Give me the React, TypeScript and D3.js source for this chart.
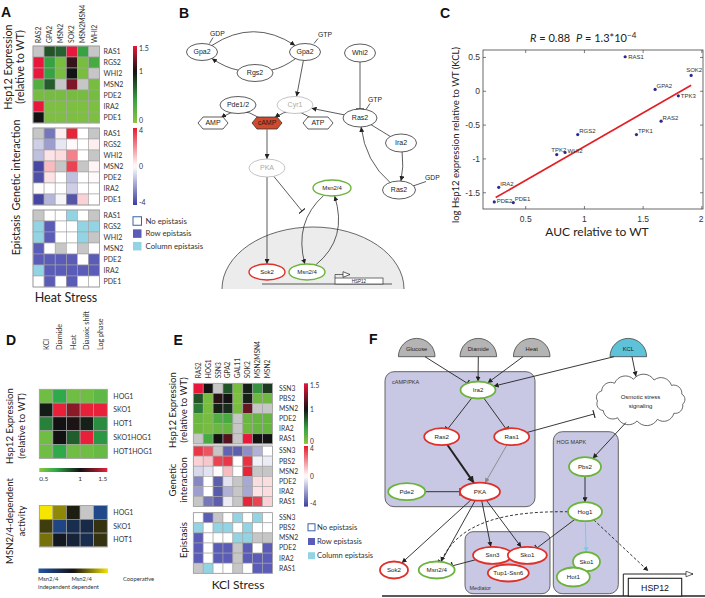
import React from "react";
import * as d3 from "d3";

// ================= DATA =================
// Panel A – heat stress
const heatCols = ["RAS2", "GPA2", "MSN2", "SOK2", "MSN2MSN4", "WHI2"];
const heatRows = ["RAS1", "RGS2", "WHI2", "MSN2", "PDE2", "IRA2", "PDE1"];
const heatExpression = [
  [null, 0.75, 0.7, 1.5, 0.45, null],
  [1.5, 0.45, 0.1, 1.08, 0.1, 0.35],
  [1.5, 0.45, 0.1, 1.0, 0.1, null],
  [0.3, 0.72, null, 1.25, null, 0.1],
  [0.12, 0.12, 0.12, 0.12, 0.12, 0.12],
  [1.5, 0.08, 0.08, 0.08, 0.08, 0.08],
  [1.0, 0.08, 0.08, 0.08, 0.08, 0.08],
];
const heatInteraction = [
  [null, -2.8, 0.3, 3.8, 0, null],
  [-1, -2, -0.5, 0.1, 0, 0.3],
  [-1.3, 0.5, 0.6, 2.2, 0, null],
  [-3.8, 1.2, null, 3.3, null, 0.2],
  [-3.6, 0.5, 0, -1.3, 0, 0.1],
  [0.05, 0, 0, -1, 0, 0],
  [-3.8, -1.5, -0.2, -3.5, 0.8, 0],
];
// 0 = no epistasis, 1 = row epistasis, 2 = column epistasis
const heatEpistasis = [
  [null, 0, 0, 2, 0, null],
  [2, 1, 0, 0, 2, 2],
  [2, 1, 0, 0, 2, null],
  [1, 0, null, 0, null, 0],
  [1, 1, 1, 1, 0, 1],
  [2, 1, 1, 1, 1, 1],
  [0, 1, 0, 1, 0, 0],
];
const exprTicks = [0, 1, 1.5];
const interTicks = [-4, 0, 4];
const epistasisLegend = ["No epistasis", "Row epistasis", "Column epistasis"];

// Panel C – scatter
const scatterGenes = ["RAS1", "SOK2", "GPA2", "TPK3", "RAS2", "TPK1", "RGS2", "TPK2", "WHI2", "IRA2", "PDE2", "PDE1"];
const scatterAUC = [1.347, 1.909, 1.602, 1.8, 1.653, 1.443, 0.943, 0.764, 0.835, 0.27, 0.232, 0.394];
const scatterLogHsp12 = [0.51, 0.234, 0.027, -0.068, -0.442, -0.64, -0.64, -0.935, -0.905, -1.42, -1.636, -1.645];
const fitAUC = [0.244, 1.909];
const fitLogHsp12 = [-1.571, 0.09];
const cXTicks = [0.5, 1, 1.5, 2];
const cYTicks = [-1.5, -1, -0.5, 0, 0.5];

// Panel D
const condCols = ["KCl", "Diamide", "Heat", "Diauxic shift", "Log phase"];
const hogRows = ["HOG1", "SKO1", "HOT1", "SKO1HOG1", "HOT1HOG1"];
const hogExpression = [
  [0.56, 0.7, 0.56, 0.56, 0.6],
  [0.98, 1.5, 1.28, 1.5, 1.5],
  [0.78, 1.0, 1.02, 0.97, 0.76],
  [0.56, 1.0, 0.85, 1.5, 0.74],
  [0.56, 0.7, 0.56, 0.56, 0.58],
];
const hogTicks = [0.5, 1, 1.5];
const msnRows = ["HOG1", "SKO1", "HOT1"];
const msnActivity = [
  [1, 0.55, 0.05, null, -0.8],
  [0.2, -0.75, -0.4, -0.35, 0.15],
  [0.45, -0.1, -0.25, -0.4, 0.15],
];

// Panel E – KCl stress
const kclCols = ["RAS2", "HOG1", "SSN3", "GPA2", "GAL11", "SOK2", "MSN2MSN4", "MSN2"];
const kclRows = ["SSN3", "PBS2", "MSN2", "PDE2", "IRA2", "RAS1"];
const kclExpression = [
  [1.5, 1.0, null, 0.75, 0.1, 0.95, 0.5, 0.85],
  [0.75, 0.1, 1.05, 1.0, 0.08, 0.95, 0.15, 0.15],
  [0.6, 0.1, 0.95, 0.9, 0.1, 1.2, null, null],
  [0.18, 0.12, 0.3, 0.35, null, 0.18, 0.2, 0.2],
  [0.15, 0.12, 0.18, 0.2, null, 0.15, 0.2, 0.2],
  [null, 0.35, 1.0, 1.15, null, 1.5, 1.0, 1.0],
];
const kclInteraction = [
  [3.5, 3, null, -3.2, -3.3, -2.3, -1.6, 0],
  [0.8, 1, 3.3, 3.5, 0, 3.6, -0.3, -0.4],
  [-0.8, -0.6, 0.1, 1.2, 0, 3.8, null, null],
  [-2.5, 0, -3.3, -0.6, null, -1.8, 0.6, 0.6],
  [-2, 0, -3.4, -1.6, null, -1.8, 0.5, 0.6],
  [null, -2.8, -3.3, -0.4, null, 3.8, 3.3, 0.8],
];
const kclEpistasis = [
  [0, 1, null, 0, 2, 0, 2, 0],
  [2, 0, 2, 2, 0, 2, 0, 0],
  [1, 0, 0, 0, 2, 2, null, null],
  [1, 0, 1, 1, null, 1, 0, 1],
  [1, 0, 1, 1, null, 1, 1, 1],
  [null, 2, 0, 0, null, 0, 1, 1],
];

// ================= STYLE =================
const FONT = "Lato, 'Open Sans', 'DejaVu Sans', sans-serif";
const ARIAL = "'Liberation Sans', Arial, sans-serif";
const NA = "#c6c6c6";
const GRID = "#a3a3a3";
const RED = "#e0302a";
const GREEN = "#6cb33e";
const ROW_EPI = "#5b5bb8";
const COL_EPI = "#93d4e4";
const LABEL = "#333";

const exprColor = d3.scaleLinear<string>().domain([0, 0.45, 1, 1.5]).range(["#8cc540", "#37a242", "#131313", "#e8173c"]).clamp(true);
const interColor = d3.scaleLinear<string>().domain([-4, 0, 4]).range(["#3b3d9d", "#ffffff", "#e51b2d"]).clamp(true);
const epiColor = (v) => (v === 1 ? ROW_EPI : v === 2 ? COL_EPI : "#ffffff");
const hogColor = d3.scaleLinear<string>().domain([0.5, 0.7, 1, 1.5]).range(["#8cc540", "#2faa4a", "#121212", "#e8203a"]).clamp(true);
const msnColor = d3.scaleLinear<string>().domain([-1, 0, 1]).range(["#2357a8", "#121212", "#f5e600"]).clamp(true);

// ================= HELPERS =================
function Heatmap({ x, y, cw, ch, rows, cols, values, color, rowFont = 7, colLabels = false, colFont = 7, colGap = 3, rowGap = 4 }) {
  const xs = d3.scaleBand().domain(d3.range(cols.length)).range([x, x + cw * cols.length]);
  const ys = d3.scaleBand().domain(d3.range(rows.length)).range([y, y + ch * rows.length]);
  const right = x + cw * cols.length;
  return (
    <g>
      {values.map((row, i) =>
        row.map((v, j) => (
          <rect key={i + "-" + j} x={xs(j)} y={ys(i)} width={xs.bandwidth()} height={ys.bandwidth()}
            fill={v == null ? NA : color(v)} stroke={GRID} strokeWidth={0.6} />
        ))
      )}
      <rect x={x} y={y} width={cw * cols.length} height={ch * rows.length} fill="none" stroke={GRID} strokeWidth={0.8} />
      {rows.map((r, i) => (
        <text key={"r" + i} x={right + rowGap} y={ys(i) + ch / 2} dy="0.35em" fontSize={rowFont} fill={LABEL} fontFamily={FONT}>{r}</text>
      ))}
      {colLabels && cols.map((c, j) => (
        <text key={"c" + j} transform={`translate(${xs(j) + cw / 2 + 2.5},${y - colGap}) rotate(-90)`} fontSize={colFont} fill={LABEL} fontFamily={FONT}>{c}</text>
      ))}
    </g>
  );
}

function VColorbar({ id, x, w, pos, color, ticks, font = 7 }) {
  const r = pos.range();
  const yBot = r[0], yTop = r[r.length - 1];
  const stops = d3.range(0, 1.0001, 0.04).map((o) => ({ o, c: color(pos.invert(yTop + o * (yBot - yTop))) }));
  return (
    <g>
      <defs>
        <linearGradient id={id} x1="0" y1="0" x2="0" y2="1">
          {stops.map((s, i) => <stop key={i} offset={s.o} stopColor={s.c} />)}
        </linearGradient>
      </defs>
      <rect x={x} y={yTop} width={w} height={yBot - yTop} fill={`url(#${id})`} />
      {ticks.map((t, i) => (
        <text key={i} x={x + w + 2} y={Math.min(Math.max(pos(t), yTop + 2.5), yBot - 2.5)} dy="0.35em" fontSize={font} fill={LABEL} fontFamily={FONT}>{String(t)}</text>
      ))}
    </g>
  );
}

function HColorbar({ id, y, h, pos, color }) {
  const r = pos.range();
  const x0 = r[0], x1 = r[r.length - 1];
  const stops = d3.range(0, 1.0001, 0.04).map((o) => ({ o, c: color(pos.invert(x0 + o * (x1 - x0))) }));
  return (
    <g>
      <defs>
        <linearGradient id={id} x1="0" y1="0" x2="1" y2="0">
          {stops.map((s, i) => <stop key={i} offset={s.o} stopColor={s.c} />)}
        </linearGradient>
      </defs>
      <rect x={x0} y={y} width={x1 - x0} height={h} fill={`url(#${id})`} />
    </g>
  );
}

function EpiLegend({ x, y0, step, box, tx, font }) {
  const fills = ["#ffffff", ROW_EPI, COL_EPI];
  return (
    <g>
      {epistasisLegend.map((t, i) => (
        <g key={t}>
          <rect x={x} y={y0 + i * step - box / 2} width={box} height={box} fill={fills[i]} stroke={i === 0 ? "#3b62a8" : "none"} strokeWidth={1} />
          <text x={tx} y={y0 + i * step} dy="0.35em" fontSize={font} fill={LABEL} fontFamily={FONT}>{t}</text>
        </g>
      ))}
    </g>
  );
}

function RotText({ x, y, size, children, anchor = "middle" }) {
  return (
    <text transform={`translate(${x},${y}) rotate(-90)`} textAnchor={anchor} fontSize={size} fill="#222" fontFamily={FONT}>{children}</text>
  );
}

function PanelLetter({ x, y, t }) {
  return <text x={x} y={y} fontSize={14} fontWeight="bold" fontFamily={ARIAL} fill="#111">{t}</text>;
}

function edgePt(n, tx, ty) {
  const dx = tx - n.x, dy = ty - n.y;
  const t = 1 / Math.sqrt((dx / n.rx) ** 2 + (dy / n.ry) ** 2);
  return [n.x + dx * t, n.y + dy * t];
}
function link(a, b, bend = 0) {
  const dx = b.x - a.x, dy = b.y - a.y, L = Math.hypot(dx, dy);
  const cx = (a.x + b.x) / 2 - (dy / L) * bend;
  const cy = (a.y + b.y) / 2 + (dx / L) * bend;
  const p0 = edgePt(a, cx, cy), p1 = edgePt(b, cx, cy);
  if (!bend) return `M${p0[0]},${p0[1]}L${p1[0]},${p1[1]}`;
  return `M${p0[0]},${p0[1]}Q${cx},${cy} ${p1[0]},${p1[1]}`;
}
const pt = (x, y) => ({ x, y, rx: 0.01, ry: 0.01 });

function ENode({ n, stroke = "#333", sw = 0.8, color = "#222", fs = 7 }) {
  return (
    <g>
      <ellipse cx={n.x} cy={n.y} rx={n.rx} ry={n.ry} fill="#fff" stroke={stroke} strokeWidth={sw} />
      <text x={n.x} y={n.y} dy="0.35em" textAnchor="middle" fontSize={fs} fill={color} fontFamily={ARIAL}>{n.label}</text>
    </g>
  );
}

function Markers() {
  const arrow = (id, fill, size) => (
    <marker id={id} viewBox="0 0 10 10" refX={10} refY={5} markerWidth={size} markerHeight={size} markerUnits="userSpaceOnUse" orient="auto">
      <path d="M0,0L10,5L0,10Z" fill={fill} />
    </marker>
  );
  return (
    <defs>
      {arrow("arr", "#222", 5)}
      {arrow("arrBig", "#222", 7)}
      {arrow("arrGray", "#888", 5)}
      {arrow("arrCyan", "#7cc8e2", 5)}
      <marker id="tee" viewBox="0 0 2 8" refX={1} refY={4} markerWidth={2} markerHeight={8} markerUnits="userSpaceOnUse" orient="auto">
        <path d="M1,0L1,8" stroke="#222" strokeWidth={1.2} />
      </marker>
      <marker id="openArr" viewBox="0 0 12 10" refX={11} refY={5} markerWidth={9} markerHeight={7} markerUnits="userSpaceOnUse" orient="auto">
        <path d="M1,1L11,5L1,9Z" fill="#fff" stroke="#222" strokeWidth={1} />
      </marker>
    </defs>
  );
}

// ================= PANEL A =================
function PanelA() {
  const X = 33, CW = 11.1, CH = 11;
  const Y = [46, 128, 210];
  const H = CH * heatRows.length;
  const cbX = 133;
  const exprPos = d3.scaleLinear().domain([0, 1.5]).range([Y[0] + H, Y[0]]);
  const interPos = d3.scaleLinear().domain([-4, 4]).range([Y[1] + H, Y[1]]);
  return (
    <g>
      <PanelLetter x={1} y={17} t="A" />
      <Heatmap x={X} y={Y[0]} cw={CW} ch={CH} rows={heatRows} cols={heatCols} values={heatExpression} color={exprColor} colLabels colFont={6.8} />
      <Heatmap x={X} y={Y[1]} cw={CW} ch={CH} rows={heatRows} cols={heatCols} values={heatInteraction} color={interColor} />
      <Heatmap x={X} y={Y[2]} cw={CW} ch={CH} rows={heatRows} cols={heatCols} values={heatEpistasis} color={epiColor} />
      <VColorbar id="cbA1" x={cbX} w={4} pos={exprPos} color={exprColor} ticks={exprTicks} />
      <VColorbar id="cbA2" x={cbX} w={4} pos={interPos} color={interColor} ticks={interTicks} />
      <EpiLegend x={133} y0={221} step={12.6} box={8.5} tx={145.5} font={7.8} />
      <RotText x={12} y={67} size={10.8}>Hsp12 Expression</RotText>
      <RotText x={24} y={67} size={10.8}>(relative to WT)</RotText>
      <RotText x={20} y={165} size={10.8}>Genetic interaction</RotText>
      <RotText x={20} y={235} size={10.8}>Epistasis</RotText>
      <text x={66} y={302} textAnchor="middle" fontSize={12.5} fill="#222" fontFamily={FONT}>Heat Stress</text>
    </g>
  );
}

// ================= PANEL B =================
const bNodes = {
  gpaGDP: { x: 202, y: 52, rx: 15.5, ry: 8.5, label: "Gpa2" },
  gpaGTP: { x: 305, y: 52, rx: 15.5, ry: 8.5, label: "Gpa2" },
  rgs2: { x: 255, y: 73, rx: 18, ry: 8.5, label: "Rgs2" },
  whi2: { x: 360, y: 53, rx: 15.5, ry: 9, label: "Whi2" },
  pde: { x: 238, y: 105, rx: 18, ry: 8.5, label: "Pde1/2" },
  cyr1: { x: 295, y: 105, rx: 18, ry: 8.5, label: "Cyr1" },
  ras2a: { x: 360, y: 118, rx: 17, ry: 9, label: "Ras2" },
  ira2: { x: 401, y: 143, rx: 15.5, ry: 9, label: "Ira2" },
  ras2b: { x: 399, y: 190, rx: 16.5, ry: 9, label: "Ras2" },
  pka: { x: 267, y: 168, rx: 18, ry: 9, label: "PKA" },
  msnA: { x: 332, y: 188, rx: 19, ry: 8, label: "Msn2/4" },
  sok2: { x: 267, y: 272, rx: 18, ry: 8, label: "Sok2" },
  msnB: { x: 307, y: 272, rx: 18, ry: 8, label: "Msn2/4" },
};
const bHex = {
  amp: { x: 213, y: 123, label: "AMP" },
  camp: { x: 267, y: 123, label: "cAMP" },
  atp: { x: 318, y: 123, label: "ATP" },
};

function Hex({ h, fill }) {
  const w = 15, k = 10, hh = 6;
  const d = `M${h.x - w},${h.y}L${h.x - k},${h.y - hh}L${h.x + k},${h.y - hh}L${h.x + w},${h.y}L${h.x + k},${h.y + hh}L${h.x - k},${h.y + hh}Z`;
  return (
    <g>
      <path d={d} fill={fill} stroke="#333" strokeWidth={0.8} />
      <text x={h.x} y={h.y} dy="0.35em" textAnchor="middle" fontSize={7} fill="#222" fontFamily={ARIAL}>{h.label}</text>
    </g>
  );
}

function PanelB() {
  const N = bNodes, Hx = bHex;
  const hn = (h) => ({ x: h.x, y: h.y, rx: 15, ry: 6.5 });
  const edges = [
    { d: link(N.gpaGDP, N.gpaGTP, -34), m: "arr" },
    { d: link(N.gpaGTP, N.rgs2, -6), m: null },
    { d: link(N.rgs2, N.gpaGDP, -6), m: "arr" },
    { d: link(N.gpaGTP, N.cyr1), m: "arr" },
    { d: link(N.whi2, N.ras2a), m: "tee" },
    { d: link(N.ras2a, N.cyr1), m: "arr" },
    { d: link(N.ras2a, N.ira2), m: null },
    { d: link(N.ira2, N.ras2b, -4), m: "arr" },
    { d: link(N.ras2b, N.ras2a, -16), m: "arr" },
    { d: link(hn(Hx.camp), hn(Hx.amp), 18), m: "arr" },
    { d: link(hn(Hx.atp), hn(Hx.camp), 18), m: "arr" },
    { d: link(hn(Hx.camp), N.pka), m: "arr" },
    { d: link(N.pka, N.sok2), m: "arr" },
    { d: link(N.pka, pt(302, 211)), m: "tee" },
    { d: link(N.msnA, N.msnB, 27), m: "arr" },
    { d: link(N.msnB, N.msnA, 30), m: "arr" },
  ];
  const tag = (x, y, lx1, ly1, lx2, ly2, t) => (
    <g key={t + x}>
      <line x1={lx1} y1={ly1} x2={lx2} y2={ly2} stroke="#333" strokeWidth={0.8} />
      <text x={x} y={y} fontSize={6.8} fill="#222" fontFamily={ARIAL}>{t}</text>
    </g>
  );
  return (
    <g>
      <PanelLetter x={179} y={18} t="B" />
      <path d="M222,289A91,62 0 0 1 404,289Z" fill="#ececec" stroke="none" />
      <path d="M222,289A91,62 0 0 1 404,289" fill="none" stroke="#444" strokeWidth={0.8} />
      <line x1={262} y1={284} x2={392} y2={284} stroke="#333" strokeWidth={0.8} />
      <rect x={335} y={278} width={48} height={6} fill="#fff" stroke="#333" strokeWidth={0.7} />
      <text x={359} y={282.8} textAnchor="middle" fontSize={4.5} fill="#222" fontFamily={ARIAL}>HSP12</text>
      <path d="M335,278L335,274.5L350,274.5" fill="none" stroke="#333" strokeWidth={0.7} markerEnd="url(#openArr)" />
      {edges.map((e, i) => (
        <path key={i} d={e.d} fill="none" stroke="#333" strokeWidth={0.8} markerEnd={e.m ? `url(#${e.m})` : undefined} />
      ))}
      {tag(210, 36, 213, 37.5, 209.5, 43.5, "GDP")}
      {tag(318, 37, 318, 38.5, 314, 43.5, "GTP")}
      {tag(368, 102, 370, 103.5, 366, 109.5, "GTP")}
      {tag(425, 180, 426, 181.5, 413, 186, "GDP")}
      <ENode n={N.gpaGDP} />
      <ENode n={N.gpaGTP} />
      <ENode n={N.rgs2} />
      <ENode n={N.whi2} />
      <ENode n={N.pde} />
      <ENode n={N.cyr1} stroke="#b5b5b5" color="#aaa" />
      <ENode n={N.ras2a} />
      <ENode n={N.ira2} />
      <ENode n={N.ras2b} />
      <ENode n={N.pka} stroke="#b5b5b5" color="#aaa" />
      <ENode n={N.msnA} stroke={GREEN} sw={1.4} fs={6} />
      <ENode n={N.sok2} stroke={RED} sw={1.4} fs={6} />
      <ENode n={N.msnB} stroke={GREEN} sw={1.4} fs={6} />
      <Hex h={Hx.amp} fill="#fff" />
      <Hex h={Hx.camp} fill="#d24a2c" />
      <Hex h={Hx.atp} fill="#fff" />
    </g>
  );
}

// ================= PANEL C =================
const cLabelNudge = {
  RAS1: [3, 2.5, "start"],
  SOK2: [3, -3, "middle"],
  TPK3: [2.5, 2.5, "start"],
  TPK2: [-5.5, -3, "start"],
  WHI2: [2.5, 0.5, "start"],
  PDE2: [2.5, 1, "start"],
};

function PanelC() {
  const x = d3.scaleLinear().domain([0.136, 2.01]).range([483, 703]);
  const y = d3.scaleLinear().domain([-1.74, 0.61]).range([209, 50]);
  const [x0, x1] = x.range();
  const [y0, y1] = y.range();
  const line = d3.line().x((d) => x(d[0])).y((d) => y(d[1]));
  const fit = line(fitAUC.map((a, i) => [a, fitLogHsp12[i]]));
  return (
    <g>
      <PanelLetter x={440} y={17.5} t="C" />
      <text x={530} y={42} fontSize={11} fill="#222" fontFamily={FONT}>
        <tspan fontStyle="italic">R</tspan> = 0.88
        <tspan x={576} fontStyle="italic">P</tspan> = 1.3*10
        <tspan dy={-4} fontSize={8}>−4</tspan>
      </text>
      <rect x={x0} y={y1} width={x1 - x0} height={y0 - y1} fill="#fff" stroke="#444" strokeWidth={0.8} />
      {cXTicks.map((t) => (
        <g key={"x" + t}>
          <line x1={x(t)} x2={x(t)} y1={y0} y2={y0 - 3} stroke="#444" strokeWidth={0.7} />
          <line x1={x(t)} x2={x(t)} y1={y1} y2={y1 + 3} stroke="#444" strokeWidth={0.7} />
          <text x={Math.min(x(t), 701)} y={221.5} textAnchor="middle" fontSize={8.5} fill="#333" fontFamily={ARIAL}>{String(t)}</text>
        </g>
      ))}
      {cYTicks.map((t) => (
        <g key={"y" + t}>
          <line x1={x0} x2={x0 + 3} y1={y(t)} y2={y(t)} stroke="#444" strokeWidth={0.7} />
          <line x1={x1} x2={x1 - 3} y1={y(t)} y2={y(t)} stroke="#444" strokeWidth={0.7} />
          <text x={480} y={y(t)} dy="0.35em" textAnchor="end" fontSize={8.5} fill="#333" fontFamily={ARIAL}>{t < 0 ? "-" + Math.abs(t) : String(t)}</text>
        </g>
      ))}
      <path d={fit} stroke="#e31e24" strokeWidth={1.6} fill="none" />
      {scatterGenes.map((g, i) => {
        const nud = cLabelNudge[g] || [1.5, -1.5, "start"];
        const px = x(scatterAUC[i]), py = y(scatterLogHsp12[i]);
        return (
          <g key={g}>
            <circle cx={px} cy={py} r={1.6} fill="#2b2b8f" />
            <text x={px + nud[0]} y={py + nud[1]} textAnchor={nud[2]} fontSize={6} fill="#333" fontFamily={ARIAL}>{g}</text>
          </g>
        );
      })}
      <RotText x={459} y={135} size={9.5}>log Hsp12 expression relative to WT (KCL)</RotText>
      <text x={597} y={236} textAnchor="middle" fontSize={12} fill="#222" fontFamily={FONT}>AUC relative to WT</text>
    </g>
  );
}

// ================= PANEL D =================
function PanelD() {
  const X = 39.3, CW = 13.6, CH = 13.8;
  const Y1 = 389.3, Y2 = 505.5;
  const right = X + CW * condCols.length;
  const hogPos = d3.scaleLinear().domain([0.5, 1, 1.5]).range([X, X + 0.6 * (right - X), right]);
  const msnPos = d3.scaleLinear().domain([-1, 1]).range([38.5, 108]);
  return (
    <g>
      <PanelLetter x={6} y={345} t="D" />
      <Heatmap x={X} y={Y1} cw={CW} ch={CH} rows={hogRows} cols={condCols} values={hogExpression} color={hogColor}
        colLabels colFont={7.2} colGap={Y1 - 350} rowFont={7} rowGap={6} />
      <Heatmap x={X} y={Y2} cw={CW} ch={CH} rows={msnRows} cols={condCols} values={msnActivity} color={msnColor} rowFont={7} rowGap={6} />
      <HColorbar id="cbD1" y={468} h={4} pos={hogPos} color={hogColor} />
      {hogTicks.map((t, i) => (
        <text key={t} x={hogPos(t)} y={481} textAnchor={i === 0 ? "start" : i === hogTicks.length - 1 ? "end" : "middle"} fontSize={6.5} fill={LABEL} fontFamily={FONT}>{String(t)}</text>
      ))}
      <HColorbar id="cbD2" y={568.5} h={4.5} pos={msnPos} color={msnColor} />
      <text x={38} y={581} fontSize={5.8} fill={LABEL} fontFamily={FONT}>Msn2/4</text>
      <text x={38} y={588.5} fontSize={5.8} fill={LABEL} fontFamily={FONT}>independent</text>
      <text x={71.5} y={581} fontSize={5.8} fill={LABEL} fontFamily={FONT}>Msn2/4</text>
      <text x={71.5} y={588.5} fontSize={5.8} fill={LABEL} fontFamily={FONT}>dependent</text>
      <text x={123} y={581} fontSize={5.8} fill={LABEL} fontFamily={FONT}>Cooperative</text>
      <RotText x={13} y={426} size={9.6}>Hsp12 Expression</RotText>
      <RotText x={24.5} y={426} size={9.6}>(relative to WT)</RotText>
      <RotText x={13} y={521} size={9.6}>MSN2/4-dependent</RotText>
      <RotText x={24.5} y={521} size={9.6}>activity</RotText>
    </g>
  );
}

// ================= PANEL E =================
function PanelE() {
  const X = 193.3, CW = 9.9, CH = 10.1;
  const Y = [383.3, 446, 512.7];
  const H = CH * kclRows.length;
  const exprPos = d3.scaleLinear().domain([0, 1, 1.5]).range([Y[0] + H, Y[0] + 0.43 * H, Y[0]]);
  const interPos = d3.scaleLinear().domain([-4, 4]).range([Y[1] + H, Y[1]]);
  return (
    <g>
      <PanelLetter x={173.5} y={345} t="E" />
      <Heatmap x={X} y={Y[0]} cw={CW} ch={CH} rows={kclRows} cols={kclCols} values={kclExpression} color={exprColor}
        colLabels colFont={6.6} colGap={5} rowFont={6.8} rowGap={6.5} />
      <Heatmap x={X} y={Y[1]} cw={CW} ch={CH} rows={kclRows} cols={kclCols} values={kclInteraction} color={interColor} rowFont={6.8} rowGap={6.5} />
      <Heatmap x={X} y={Y[2]} cw={CW} ch={CH} rows={kclRows} cols={kclCols} values={kclEpistasis} color={epiColor} rowFont={6.8} rowGap={6.5} />
      <VColorbar id="cbE1" x={304} w={4} pos={exprPos} color={exprColor} ticks={exprTicks} font={6.6} />
      <VColorbar id="cbE2" x={304} w={4} pos={interPos} color={interColor} ticks={interTicks} font={6.6} />
      <EpiLegend x={308} y0={527.3} step={14.2} box={7} tx={317} font={7.6} />
      <RotText x={175.5} y={410} size={9.6}>Hsp12 Expression</RotText>
      <RotText x={187} y={410} size={9.6}>(relative to WT)</RotText>
      <RotText x={175.5} y={480} size={9.6}>Genetic</RotText>
      <RotText x={187} y={480} size={9.6}>interaction</RotText>
      <RotText x={187} y={540} size={9.6}>Epistasis</RotText>
      <text x={238} y={589} textAnchor="middle" fontSize={12} fill="#222" fontFamily={FONT}>KCl Stress</text>
    </g>
  );
}

// ================= PANEL F =================
const fNodes = {
  ira2: { x: 478, y: 390, rx: 17.5, ry: 8.5, label: "Ira2", c: GREEN },
  ras2: { x: 441.7, y: 436.7, rx: 17.5, ry: 8.5, label: "Ras2", c: RED },
  ras1: { x: 511.7, y: 436.7, rx: 17.5, ry: 8.5, label: "Ras1", c: RED },
  pde2: { x: 406.7, y: 491.7, rx: 18.5, ry: 8.5, label: "Pde2", c: GREEN },
  pka: { x: 480, y: 491.7, rx: 20, ry: 9, label: "PKA", c: RED },
  pbs2: { x: 585, y: 466.7, rx: 16, ry: 9.5, label: "Pbs2", c: GREEN },
  hog1: { x: 585, y: 511.7, rx: 17, ry: 9.5, label: "Hog1", c: GREEN },
  sko1h: { x: 586.5, y: 561.7, rx: 13.5, ry: 9.5, label: "Sko1", c: GREEN },
  hot1: { x: 573.3, y: 577, rx: 16.5, ry: 9.5, label: "Hot1", c: GREEN },
  tup: { x: 508.3, y: 573, rx: 20.5, ry: 8.5, label: "Tup1-Ssn6", c: RED },
  ssn3: { x: 492.5, y: 555.3, rx: 19.5, ry: 8.5, label: "Ssn3", c: RED },
  sko1m: { x: 527.3, y: 555.3, rx: 19.5, ry: 8.5, label: "Sko1", c: RED },
  sok2: { x: 394, y: 570, rx: 14, ry: 8.5, label: "Sok2", c: RED },
  msn24: { x: 436.7, y: 570, rx: 18, ry: 8.5, label: "Msn2/4", c: GREEN },
};
const fSignals = [
  { x: 416.7, label: "Glucose", fill: "#b4b4b4" },
  { x: 478.3, label: "Diamide", fill: "#b4b4b4" },
  { x: 531.7, label: "Heat", fill: "#b4b4b4" },
  { x: 628.3, label: "KCL", fill: "#5ec3d8" },
];

function cloudPath(cx, cy, rx, ry, n) {
  const pts = d3.range(n).map((i) => {
    const a = (i / n) * 2 * Math.PI + 0.2;
    return [cx + rx * Math.cos(a), cy + ry * Math.sin(a)];
  });
  let d = `M${pts[0][0]},${pts[0][1]}`;
  for (let i = 0; i < n; i++) {
    const q = pts[i], p = pts[(i + 1) % n];
    const r = Math.hypot(p[0] - q[0], p[1] - q[1]) * 0.6;
    d += `A${r},${r} 0 0 1 ${p[0]},${p[1]}`;
  }
  return d + "Z";
}

function PanelF() {
  const N = fNodes;
  const base = 356.7, R = 18.3;
  const cloud = { x: 640.5, y: 400, rx: 43, ry: 21 };
  const solid = [
    { d: link(pt(425, base), N.ira2), m: "tee" },
    { d: link(pt(478.3, base), N.ira2), m: "arr" },
    { d: link(pt(523, base), N.ira2), m: "arr" },
    { d: link(pt(614, base), N.ira2), m: "arr" },
    { d: link(pt(632, base), pt(636, 376.5)), m: "arr" },
    { d: link(N.ira2, N.ras2), m: "tee" },
    { d: link(N.ira2, N.ras1), m: "tee" },
    { d: link(N.ras1, pt(594, 414)), m: "tee" },
    { d: link(N.pde2, N.pka), m: "tee" },
    { d: link(pt(626, 422.5), N.pbs2), m: "arr" },
    { d: link(N.pbs2, N.hog1), m: "arr" },
    { d: link(N.hog1, N.sko1m), m: "tee" },
    { d: link(N.pka, N.sok2), m: "arr" },
    { d: link(N.pka, N.msn24), m: "tee" },
    { d: link(N.pka, N.ssn3), m: "arr" },
    { d: link(N.pka, N.sko1m), m: "arr" },
    { d: link(N.ssn3, N.msn24), m: "tee" },
  ];
  const hogStart = edgePt(N.hog1, 500, 512);
  const msnEnd = edgePt(N.msn24, 452, 540);
  const hspEnd = [648.3, 571];
  const hogStart2 = edgePt(N.hog1, hspEnd[0], hspEnd[1]);
  return (
    <g>
      <PanelLetter x={369} y={343.5} t="F" />
      <rect x={385} y={371.7} width={150} height={135} rx={9} fill="#c8c8e4" stroke="#555" strokeWidth={0.9} />
      <rect x={553.3} y={431.7} width={65} height={162} rx={9} fill="#c8c8e4" stroke="#555" strokeWidth={0.9} />
      <rect x={465} y={531.7} width={85} height={62} rx={8} fill="#c8c8e4" stroke="#555" strokeWidth={0.9} />
      <text x={392} y={384} fontSize={5.5} fill="#333" fontFamily={ARIAL}>cAMP/PKA</text>
      <text x={556.5} y={444} fontSize={5.5} fill="#333" fontFamily={ARIAL}>HOG MAPK</text>
      <text x={469.5} y={589.5} fontSize={5.5} fill="#333" fontFamily={ARIAL}>Mediator</text>
      {fSignals.map((s) => (
        <g key={s.label}>
          <path d={`M${s.x - R},${base}A${R},${R} 0 0 1 ${s.x + R},${base}Z`} fill={s.fill} stroke="#444" strokeWidth={0.8} />
          <text x={s.x} y={350.5} textAnchor="middle" fontSize={5.8} fill="#222" fontFamily={ARIAL}>{s.label}</text>
        </g>
      ))}
      <path d={cloudPath(cloud.x, cloud.y, cloud.rx, cloud.ry, 13)} fill="#fff" stroke="#444" strokeWidth={0.8} />
      <text x={cloud.x} y={399} textAnchor="middle" fontSize={6} fill="#222" fontFamily={ARIAL}>Osmotic stress</text>
      <text x={cloud.x} y={407.5} textAnchor="middle" fontSize={6} fill="#222" fontFamily={ARIAL}>signaling</text>
      {solid.map((e, i) => (
        <path key={i} d={e.d} fill="none" stroke="#222" strokeWidth={0.9} markerEnd={`url(#${e.m})`} />
      ))}
      <path d={link(N.ras2, N.pka)} fill="none" stroke="#222" strokeWidth={2} markerEnd="url(#arrBig)" />
      <path d={link(N.ras1, N.pka)} fill="none" stroke="#888" strokeWidth={0.9} markerEnd="url(#arrGray)" />
      <path d={link(N.hog1, N.sko1h)} fill="none" stroke="#7cc8e2" strokeWidth={1} markerEnd="url(#arrCyan)" />
      <path d={`M${hogStart[0]},${hogStart[1]}C505,511 458,522 ${msnEnd[0]},${msnEnd[1]}`} fill="none" stroke="#222" strokeWidth={0.9} strokeDasharray="3,2" markerEnd="url(#arr)" />
      <path d={`M${hogStart2[0]},${hogStart2[1]}L${hspEnd[0]},${hspEnd[1]}`} fill="none" stroke="#222" strokeWidth={0.9} strokeDasharray="3,2" markerEnd="url(#arr)" />
      {["ira2", "ras2", "ras1", "pde2", "pka", "pbs2", "hog1", "sko1h", "hot1", "tup", "ssn3", "sko1m", "sok2", "msn24"].map((k) => (
        <ENode key={k} n={N[k]} stroke={N[k].c} sw={1.8} fs={6.2} />
      ))}
      <line x1={382} y1={596} x2={705} y2={596} stroke="#222" strokeWidth={1.6} />
      <path d="M623.3,596L623.3,574L693,574" fill="none" stroke="#222" strokeWidth={1} markerEnd="url(#openArr)" />
      <rect x={628.3} y={578.3} width={53.4} height={17.7} fill="#fff" stroke="#222" strokeWidth={1.1} />
      <text x={655} y={591} textAnchor="middle" fontSize={8.8} fill="#111" fontFamily={ARIAL}>HSP12</text>
    </g>
  );
}

export default function App() {
  return (
    <svg width={705} height={598} viewBox="0 0 705 598" style={{ position: "absolute", left: 0, top: 0, background: "#fff" }}>
      <rect width={705} height={598} fill="#fff" />
      <Markers />
      <PanelA />
      <PanelB />
      <PanelC />
      <PanelD />
      <PanelE />
      <PanelF />
    </svg>
  );
}
